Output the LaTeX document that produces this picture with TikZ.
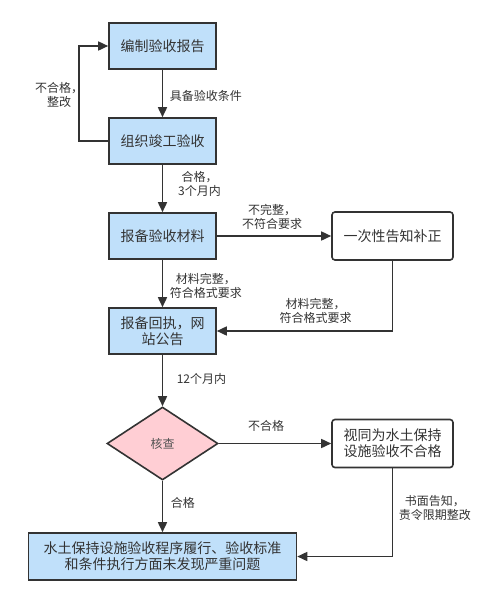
\documentclass[tikz,border=0pt]{standalone}
\usepackage{fontspec}
\setmainfont{Noto Sans CJK SC}
\usetikzlibrary{arrows.meta, shapes.geometric}
\definecolor{procblue}{RGB}{192,224,250}
\definecolor{judgepink}{RGB}{255,206,212}
\definecolor{inkgray}{RGB}{51,51,51}

\begin{document}
\begin{tikzpicture}[>={Triangle[length=10pt,width=9pt]}, line width=1.6pt, draw=inkgray, node distance=95pt,
    proc/.style={draw=inkgray, fill=procblue, minimum width=107pt, minimum height=46pt, inner sep=2pt, align=center, text=inkgray, font=\fontsize{14}{16}\selectfont},
    note/.style={draw=inkgray, fill=white, rounded corners=3pt, minimum width=121pt, minimum height=48pt, align=center, text=inkgray, font=\fontsize{14}{16}\selectfont},
    judge/.style={draw=inkgray, fill=judgepink, diamond, aspect=1.5, minimum width=111pt, minimum height=73pt, inner sep=0pt, text=inkgray!85, font=\fontsize{12}{14}\selectfont},
    lbl/.style={text=inkgray, align=center, inner sep=0pt, font=\fontsize{12}{14}\selectfont}]

    \useasboundingbox (0,0) rectangle (500pt,-603pt);

    %define the boxes
    \node[proc] (bianzhi) at (162.5pt,-46pt) {编制验收报告};
    \node[proc] (zuzhi) [below of=bianzhi] {组织竣工验收};
    \node[proc] (baobei) [below of=zuzhi] {报备验收材料};
    \node[proc] (huizhi) [below of=baobei] {报备回执，网\\站公告};
    \node[judge] (hecha) [below of=huizhi, node distance=112.5pt] {核查};
    \node[proc, minimum width=268pt, minimum height=47pt] (wenti) [below of=hecha, node distance=113pt] {水土保持设施验收程序履行、验收标准\\和条件执行方面未发现严重问题};
    \node[note] (buzheng) [right of=baobei, node distance=230pt] {一次性告知补正};
    \node[note] (buhege) [right of=hecha, node distance=230pt] {视同为水土保持\\设施验收不合格};

    %define the links
    \draw[->, inkgray] (bianzhi) -- node[lbl, right, xshift=6.5pt, yshift=-2pt] {具备验收条件} (zuzhi);
    \draw[->, inkgray] (zuzhi.west) -- ++(-29pt,0) |- node[lbl, pos=0.25, xshift=-20pt, yshift=-1pt] {不合格，\\整改} (bianzhi.west);
    \draw[->, inkgray] (zuzhi) -- node[lbl, xshift=37pt, yshift=5pt] {合格，\\3个月内} (baobei);
    \draw[->, inkgray] (baobei) -- node[lbl, above=6pt, xshift=-2pt] {不完整，\\不符合要求} (buzheng);
    \draw[->, inkgray] (baobei) -- node[lbl, right, xshift=6.5pt, yshift=-2.5pt] {材料完整，\\符合格式要求} (huizhi);
    \draw[->, inkgray] (buzheng) |- node[lbl, pos=0.75, above=7pt, xshift=11pt] {材料完整，\\符合格式要求} (huizhi);
    \draw[->, inkgray] (huizhi) -- node[lbl, right, xshift=13.5pt, yshift=1.5pt] {12个月内} (hecha);
    \draw[->, inkgray] (hecha) -- node[lbl, above=11pt, xshift=-9pt] {不合格} (buhege);
    \draw[->, inkgray] (hecha) -- node[lbl, right, xshift=7.5pt, yshift=3.5pt] {合格} (wenti);
    \draw[->, inkgray] (buhege) |- node[lbl, pos=0.25, right, xshift=5.5pt, yshift=4pt] {书面告知，\\责令限期整改} (wenti);
\end{tikzpicture}
\end{document}
